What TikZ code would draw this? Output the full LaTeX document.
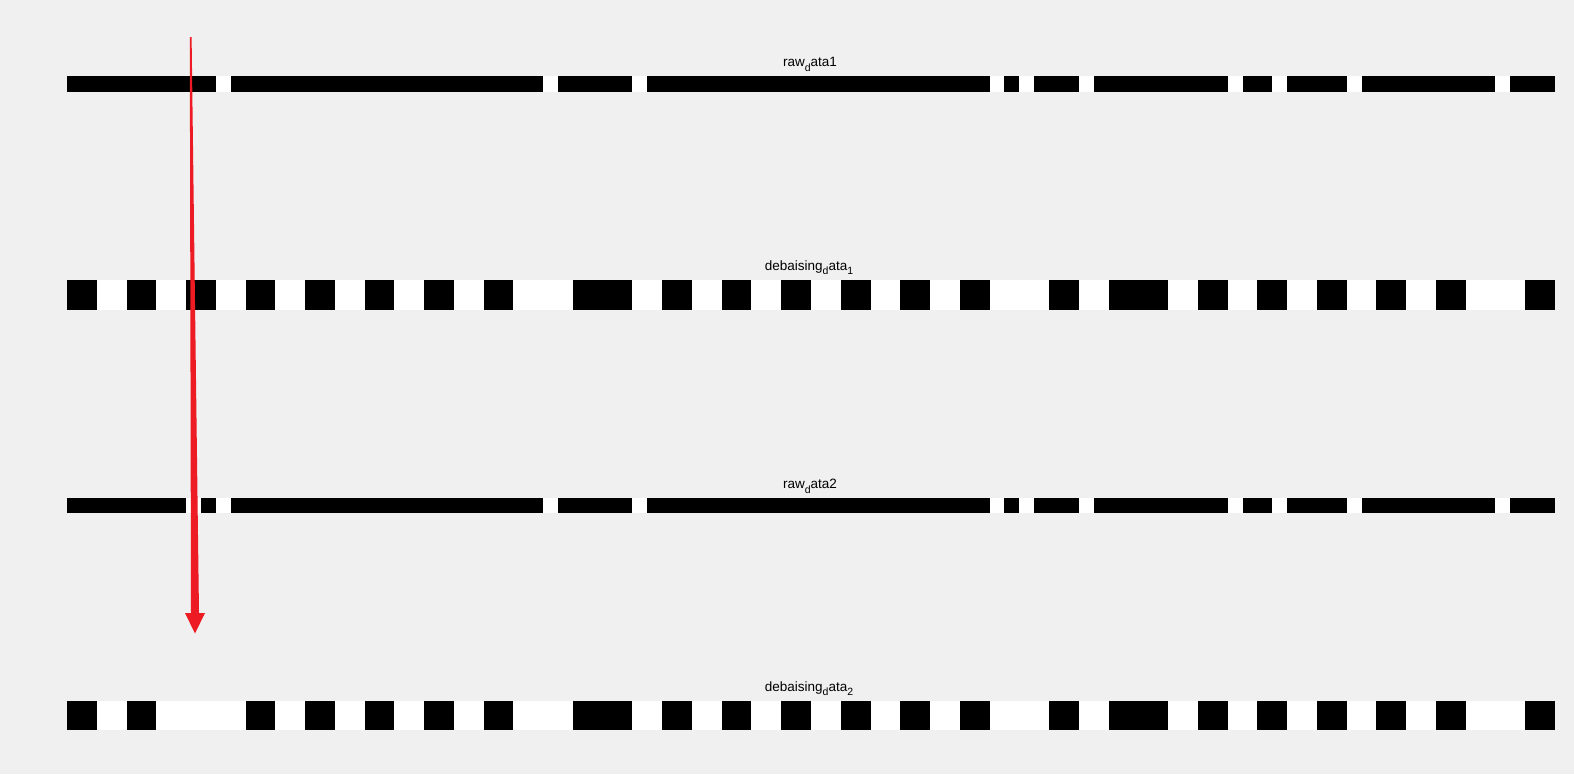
\documentclass[tikz,border=0pt]{standalone}
\usepackage{fontspec}
\setmainfont{Liberation Sans}
\definecolor{figbg}{RGB}{240,240,240}
\definecolor{arrowred}{RGB}{237,28,36}
\newcommand{\mysub}[1]{\raisebox{-4.5pt}{\fontsize{10.5}{11}\selectfont #1}}
\begin{document}
\begin{tikzpicture}[x=1pt,y=-1pt,
  lbl/.style={font=\fontsize{13.5}{15}\selectfont, anchor=base, inner sep=0pt},
  barbg/.style={fill=white},
  seg/.style={fill=black},
  redarrow/.style={fill=arrowred, draw=none}]
\fill[figbg] (0,0) rectangle (1574,774);
\useasboundingbox (0,0) rectangle (1574,774);
\def\xo{67}
\def\hu{14.88}
% row 1: raw data1
\fill[barbg] (\xo,76) rectangle ({\xo+100*\hu},91.5);
\foreach \a/\b in {0/10,11/32,33/38,39/62,63/64,65/68,69/78,79/81,82/86,87/96,97/100}
  \fill[seg] ({\xo+\a*\hu},76) rectangle ({\xo+\b*\hu},91.5);
% row 2: debaising data 1
\fill[barbg] (\xo,280) rectangle ({\xo+100*\hu},309.5);
\foreach \a/\b in {0/2,4/6,8/10,12/14,16/18,20/22,24/26,28/30,34/38,40/42,44/46,48/50,52/54,56/58,60/62,66/68,70/74,76/78,80/82,84/86,88/90,92/94,98/100}
  \fill[seg] ({\xo+\a*\hu},280) rectangle ({\xo+\b*\hu},309.5);
% row 3: raw data2
\fill[barbg] (\xo,498) rectangle ({\xo+100*\hu},513.3);
\foreach \a/\b in {0/8,9/10,11/32,33/38,39/62,63/64,65/68,69/78,79/81,82/86,87/96,97/100}
  \fill[seg] ({\xo+\a*\hu},498) rectangle ({\xo+\b*\hu},513.3);
% row 4: debaising data 2
\fill[barbg] (\xo,700.7) rectangle ({\xo+100*\hu},730);
\foreach \a/\b in {0/2,4/6,12/14,16/18,20/22,24/26,28/30,34/38,40/42,44/46,48/50,52/54,56/58,60/62,66/68,70/74,76/78,80/82,84/86,88/90,92/94,98/100}
  \fill[seg] ({\xo+\a*\hu},700.7) rectangle ({\xo+\b*\hu},730);
% labels
\node[lbl] (l1) at (810,66.7) {raw\mysub{d}ata1};
\node[lbl] (l2) at (809,270.3) {debaising\mysub{d}ata\mysub{1}};
\node[lbl] (l3) at (810,488.5) {raw\mysub{d}ata2};
\node[lbl] (l4) at (809,691) {debaising\mysub{d}ata\mysub{2}};
% red arrow
\coordinate (astart) at (190.7,37);
\coordinate (atip) at (195,633.5);
\fill[redarrow] ([xshift=-0.9pt]astart) -- ([xshift=0.9pt]astart) -- (199,613) -- (205,613) -- (atip) -- (185,613) -- (191,613) -- cycle;
\end{tikzpicture}
\end{document}
